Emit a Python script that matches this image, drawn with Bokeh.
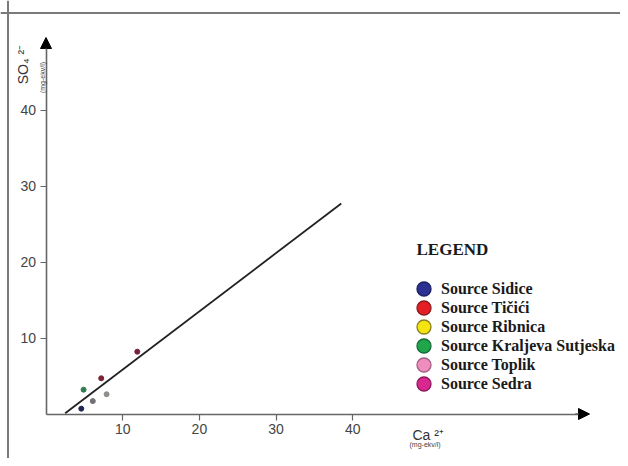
import math
from bokeh.plotting import figure
from bokeh.models import (Range1d, LinearAxis, FixedTicker, Arrow, NormalHead, Label,
                          Span, Legend, LegendItem, ColumnDataSource)
from bokeh.embed import file_html
from bokeh.resources import INLINE

# ---- data ----
sources = ["Source Sidice", "Source Tičići", "Source Ribnica",
           "Source Kraljeva Sutjeska", "Source Toplik", "Source Sedra"]
ca = [4.6, 7.2, 7.9, 4.9, 6.1, 11.9]          # Ca2+ (mg-ekv/l)
so4 = [0.7, 4.7, 2.6, 3.2, 1.7, 8.2]          # SO4 2- (mg-ekv/l)
point_colors = ["#1f2352", "#7a2233", "#8e8e8a", "#2e7d4f", "#707075", "#7a2040"]
legend_colors = ["#2a3192", "#e31e24", "#f4e511", "#1fa64a", "#f08dbf", "#d8288f"]
legend_rings = ["#1a1f5e", "#8a1a1c", "#8a7f20", "#17693a", "#a0607f", "#8a1a5a"]
trend_x = [2.5, 38.5]
trend_y = [0.1, 27.7]
x_ticks = [10, 20, 30, 40]
y_ticks = [10, 20, 30, 40]

# ---- pixel helpers (canvas px -> data) ----
X0, SX = 45.5, 7.67
Y0, SY = 413.5, 7.6
def dx(px):
    return (px - X0) / SX
def dy(py):
    return (Y0 - py) / SY

W, H = 620, 458
p = figure(width=W, height=H,
           x_range=Range1d(dx(0), dx(W)), y_range=Range1d(dy(H), dy(0)),
           x_axis_type=None, y_axis_type=None, toolbar_location=None,
           output_backend="svg", min_border=0)
p.outline_line_color = None
p.background_fill_color = "white"
p.border_fill_color = "white"

# frame border (top and left visible)
p.add_layout(Span(location=dy(12.5), dimension="width", line_color="#7a7a7a", line_width=2))
p.add_layout(Span(location=dx(7.5), dimension="height", line_color="#7a7a7a", line_width=2))

font = "Liberation Sans"
xaxis = LinearAxis(fixed_location=0, bounds=(0, 70), ticker=FixedTicker(ticks=x_ticks))
yaxis = LinearAxis(fixed_location=0, bounds=(0, 49), ticker=FixedTicker(ticks=y_ticks))
for ax in (xaxis, yaxis):
    ax.axis_line_color = "#666666"
    ax.axis_line_width = 1.6
    ax.major_tick_line_color = "#666666"
    ax.major_tick_line_width = 1.2
    ax.major_tick_out = 6
    ax.major_tick_in = 0
    ax.minor_tick_out = 0
    ax.minor_tick_in = 0
    ax.major_label_text_font = font
    ax.major_label_text_font_size = "14px"
    ax.major_label_text_color = "#444444"
    ax.major_label_standoff = 4
p.add_layout(xaxis, "below")
p.add_layout(yaxis, "left")

# arrowheads
p.add_layout(Arrow(end=NormalHead(size=11, fill_color="black", line_color="black"),
                   x_start=69, y_start=0, x_end=dx(589), y_end=0,
                   line_color="#666666", line_width=1.6))
p.add_layout(Arrow(end=NormalHead(size=11, fill_color="black", line_color="black"),
                   x_start=0, y_start=48, x_end=0, y_end=dy(37),
                   line_color="#666666", line_width=1.6))

# axis titles
p.add_layout(Label(x=dx(22), y=dy(64), text="SO₄ ²⁻", angle=math.pi / 2,
                   text_align="center", text_baseline="middle",
                   text_font=font, text_font_size="14px", text_color="#333333"))
p.add_layout(Label(x=dx(42), y=dy(77), text="(mg-ekv/l)", angle=math.pi / 2,
                   text_align="center", text_baseline="middle",
                   text_font=font, text_font_size="7px", text_color="#444444"))
p.add_layout(Label(x=dx(412), y=dy(434), text="Ca ²⁺",
                   text_align="left", text_baseline="alphabetic",
                   text_font=font, text_font_size="14px", text_color="#333333"))
p.add_layout(Label(x=dx(409), y=dy(444), text="(mg-ekv/l)",
                   text_align="left", text_baseline="middle",
                   text_font=font, text_font_size="7px", text_color="#444444"))

# trend line
p.line(trend_x, trend_y, line_color="#222222", line_width=1.8)

# legend renderers: one per source, drawn at size 0 under the visible points
legend_renderers = []
for i, (col, ring) in enumerate(zip(legend_colors, legend_rings)):
    s = ColumnDataSource(dict(x=[ca[i]], y=[so4[i]]))
    r = p.scatter("x", "y", source=s, size=0, fill_color=col,
                  line_color=ring, line_width=1.3)
    legend_renderers.append(r)

# visible points
src = ColumnDataSource(dict(x=ca, y=so4, c=point_colors, name=sources))
p.scatter("x", "y", source=src, size=5, fill_color="c", line_color="c")

# legend title
p.add_layout(Label(x=dx(416), y=dy(249), text="LEGEND",
                   text_align="left", text_baseline="alphabetic",
                   text_font="Liberation Serif", text_font_style="bold",
                   text_font_size="17px", text_color="#1a1a1a"))

# one legend per entry, stacked at a 19px pitch
GLYPH = 35
first_center, pitch = 288.5, 19
for i, (name, r) in enumerate(zip(sources, legend_renderers)):
    bottom_from_frame = H - (first_center + pitch * i + GLYPH / 2)
    lg = Legend(items=[LegendItem(label=name, renderers=[r])],
                location=(406, round(bottom_from_frame)),
                label_text_font="Liberation Serif", label_text_font_style="bold",
                label_text_font_size="16px", label_text_color="#1a1a1a",
                label_standoff=-1, glyph_width=GLYPH, glyph_height=GLYPH,
                label_height=19, spacing=0, padding=0, margin=0,
                background_fill_alpha=0, border_line_color=None)
    p.add_layout(lg)

open("out.html", "w").write(file_html(p, INLINE))
